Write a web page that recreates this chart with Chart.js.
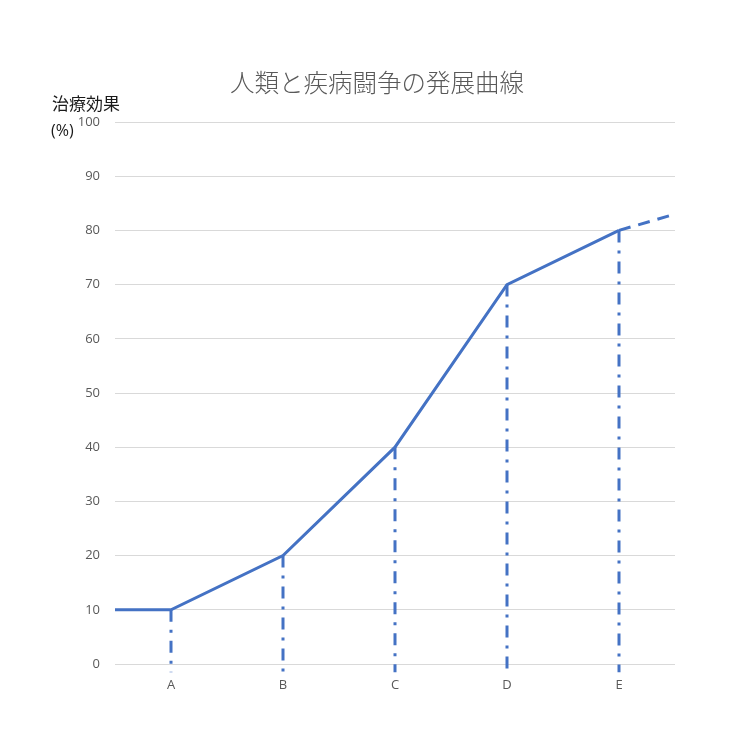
<!DOCTYPE html>
<html>
<head>
<meta charset="utf-8">
<script src="https://cdn.jsdelivr.net/npm/chart.js@4/dist/chart.umd.min.js"></script>
<style>
html,body{margin:0;padding:0;background:#fff;}
#wrap{width:756px;height:756px;}
</style>
</head>
<body>
<div id="wrap"><canvas id="c" width="756" height="756"></canvas></div>
<script>
const titleText = '人類と疾病闘争の発展曲線';
const yLabelLines = ['治療効果', '(%)'];
const categories = ['A', 'B', 'C', 'D', 'E'];
const values = [10, 20, 40, 70, 80];
const startValue = 10;      // value at the left edge of the plot
const projectedValue = 83;  // dashed projection at right edge
const dropFloor = -1.5;     // drop lines end slightly below zero
const yTicks = [0, 10, 20, 30, 40, 50, 60, 70, 80, 90, 100];

const BLUE = '#4472C4';
const FONT = "'Open Sans', 'Noto Sans', sans-serif";
const CJK = "'Noto Sans CJK JP', sans-serif";

const catX = i => i + 0.5;

const mainData = [{x: 0, y: startValue}].concat(values.map((v, i) => ({x: catX(i), y: v})));
const projData = [{x: catX(values.length - 1), y: values[values.length - 1]}, {x: categories.length, y: projectedValue}];

const datasets = [
  {data: mainData, borderColor: BLUE, borderWidth: 3, pointRadius: 0, fill: false, tension: 0, order: 0},
  {data: projData, borderColor: BLUE, borderWidth: 3, borderDash: [12, 8], pointRadius: 0, fill: false, order: 1}
];
values.forEach((v, i) => {
  datasets.push({
    data: [{x: catX(i), y: v}, {x: catX(i), y: dropFloor}],
    borderColor: BLUE, borderWidth: 3, borderDash: [12, 8, 3, 8],
    pointRadius: 0, fill: false, clip: false, order: 2
  });
});

const textPlugin = {
  id: 'texts',
  afterDraw(chart) {
    const ctx = chart.ctx;
    ctx.save();
    ctx.fillStyle = '#595959';
    ctx.font = "300 24.5px " + CJK;
    ctx.textAlign = 'center';
    ctx.textBaseline = 'alphabetic';
    ctx.fillText(titleText, 377, 92);
    ctx.fillStyle = '#1a1a1a';
    ctx.textAlign = 'left';
    ctx.font = "17px " + CJK;
    ctx.fillText(yLabelLines[0], 52, 110);
    ctx.font = "16px " + FONT;
    ctx.fillText(yLabelLines[1], 51, 136);
    ctx.restore();
  }
};

new Chart(document.getElementById('c'), {
  type: 'line',
  data: {datasets},
  options: {
    responsive: false,
    animation: false,
    devicePixelRatio: 1,
    layout: {padding: {top: 122, right: 81, left: 0, bottom: 0}},
    plugins: {legend: {display: false}, title: {display: false}, tooltip: {enabled: false}},
    scales: {
      x: {
        type: 'linear', min: 0, max: categories.length,
        grid: {display: false, drawTicks: false},
        border: {display: false},
        afterBuildTicks: axis => { axis.ticks = categories.map((c, i) => ({value: catX(i)})); },
        afterFit: axis => { axis.height = 92; },
        ticks: {
          padding: 13, color: '#595959', font: {family: FONT, size: 13},
          callback: v => categories[Math.round(v - 0.5)]
        }
      },
      y: {
        min: 0, max: 100,
        grid: {color: '#d9d9d9', lineWidth: 1, drawTicks: false},
        border: {display: false},
        afterBuildTicks: axis => { axis.ticks = yTicks.map(v => ({value: v})); },
        afterFit: axis => { axis.width = 115; },
        ticks: {padding: 15, color: '#595959', font: {family: FONT, size: 13}}
      }
    }
  },
  plugins: [textPlugin]
});
</script>
</body>
</html>
